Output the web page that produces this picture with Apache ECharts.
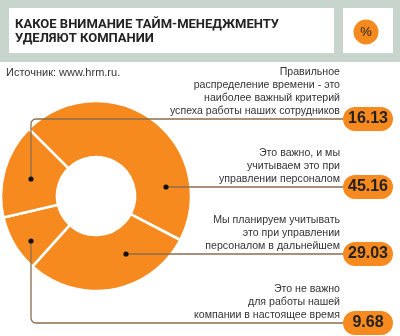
<!DOCTYPE html>
<html><head><meta charset="utf-8">
<script src="https://cdn.jsdelivr.net/npm/echarts@6/dist/echarts.min.js"></script>
<style>html,body{margin:0;padding:0;background:#fff}#c{width:400px;height:336px}</style>
</head><body><div id="c"></div>
<script>
// ---- data (in pie order, clockwise from upper-left) ----
const categories = [
  'Это важно, и мы\nучитываем это при\nуправлении персоналом',
  'Мы планируем учитывать\nэто при управлении\nперсоналом в дальнейшем',
  'Это не важно\nдля работы нашей\nкомпании в настоящее время',
  'Правильное\nраспределение времени - это\nнаиболее важный критерий\nуспеха работы наших сотрудников'
];
const values = [45.16, 29.03, 9.68, 16.13];
const titleText = 'КАКОЕ ВНИМАНИЕ ТАЙМ-МЕНЕДЖМЕНТУ\nУДЕЛЯЮТ КОМПАНИИ';
const unitText = '%';
const sourceText = 'Источник: www.hrm.ru.';

// ---- layout / style ----
const ORANGE = '#f68a1f';
const LINE = '#8d6e4c';
const CX = 96, CY = 196;
const BX = 343;        // badge left / line end
const TX = 340;        // description right edge
const anchors = [[70, -9], [30, 58], [-65, 45], [-65, -17]];
const lineY = [187, 254, 323, 119];

const chart = echarts.init(document.getElementById('c'), null, {renderer: 'canvas'});
const pieData = values.map((v, i) => ({name: categories[i], value: v}));

function leaderPoints(i) {
  const ax = CX + anchors[i][0], ay = CY + anchors[i][1], ly = lineY[i];
  if (Math.abs(ay - ly) < 4) return [[ax, ay], [(ax + BX) / 2, ay], [BX, ay]];
  const r = 5, pts = [[ax, ay]];
  const up = ly < ay;
  const cx = ax + r, cy = up ? ly + r : ly - r;
  for (let k = 0; k <= 6; k++) {
    const t = up ? Math.PI - k * (Math.PI / 2) / 6 : Math.PI + k * (Math.PI / 2) / 6;
    pts.push([cx + r * Math.cos(t), cy - r * Math.sin(t)]);
  }
  pts.push([BX, ly]);
  return pts;
}

const dots = anchors.map(a => ({
  type: 'circle', shape: {cx: CX + a[0], cy: CY + a[1], r: 2.6},
  style: {fill: '#111'}, z: 100
}));

const pieBase = {type: 'pie', center: [CX, CY], radius: [39, 95], startAngle: 135, clockwise: true,
  avoidLabelOverlap: false, silent: true, emphasis: {disabled: true}, data: pieData};

chart.setOption({
  animation: false,
  graphic: [
    {type: 'rect', shape: {x: 0, y: 0, width: 400, height: 62}, style: {fill: '#c8d5cd'}, z: 0},
    {type: 'rect', shape: {x: 9, y: 8, width: 325, height: 45}, style: {fill: '#fff'}, z: 1},
    {type: 'rect', shape: {x: 343, y: 8, width: 50, height: 45}, style: {fill: '#fff'}, z: 1},
    {type: 'text', x: 15, y: 17, z: 2, style: {text: titleText, font: 'bold 13px Roboto', lineHeight: 14.5, fill: '#222'}},
    {type: 'circle', shape: {cx: 366, cy: 32, r: 12.5}, style: {fill: ORANGE}, z: 2},
    {type: 'text', x: 366, y: 32, z: 3, style: {text: unitText, font: '13px "Liberation Sans"', fill: '#222', align: 'center', verticalAlign: 'middle'}},
    {type: 'text', x: 6, y: 67, z: 2, style: {text: sourceText, font: '11px "Liberation Sans"', fill: '#333'}},
    ...dots
  ],
  series: [
    Object.assign({}, pieBase, {
      z: 1,
      itemStyle: {color: 'rgba(0,0,0,0)', borderWidth: 0},
      label: {show: true, position: 'outside', formatter: '{b}', fontFamily: 'Liberation Sans', fontSize: 10.6, lineHeight: 13, color: '#333', align: 'right'},
      labelLine: {show: false},
      labelLayout: p => ({x: TX, y: lineY[p.dataIndex] - 1, align: 'right', verticalAlign: 'bottom'})
    }),
    Object.assign({}, pieBase, {
      z: 2,
      itemStyle: {color: ORANGE, borderColor: '#fff', borderWidth: 2.6},
      label: {show: false},
      labelLine: {show: false}
    }),
    Object.assign({}, pieBase, {
      z: 3,
      itemStyle: {color: 'rgba(0,0,0,0)', borderWidth: 0},
      label: {
        show: true, position: 'outside', formatter: '{b|{c}}',
        rich: {b: {width: 38, align: 'center', fontFamily: 'Liberation Sans', fontWeight: 'bold', fontSize: 16, lineHeight: 17,
          color: '#222', backgroundColor: ORANGE, borderRadius: 12.5, padding: [4, 6, 4, 6]}}
      },
      labelLine: {show: true, length: 5, length2: 5, lineStyle: {color: LINE, width: 1.3}},
      labelLayout: p => ({x: BX, y: lineY[p.dataIndex], align: 'left', verticalAlign: 'middle', labelLinePoints: leaderPoints(p.dataIndex)})
    })
  ]
});
</script></body></html>
